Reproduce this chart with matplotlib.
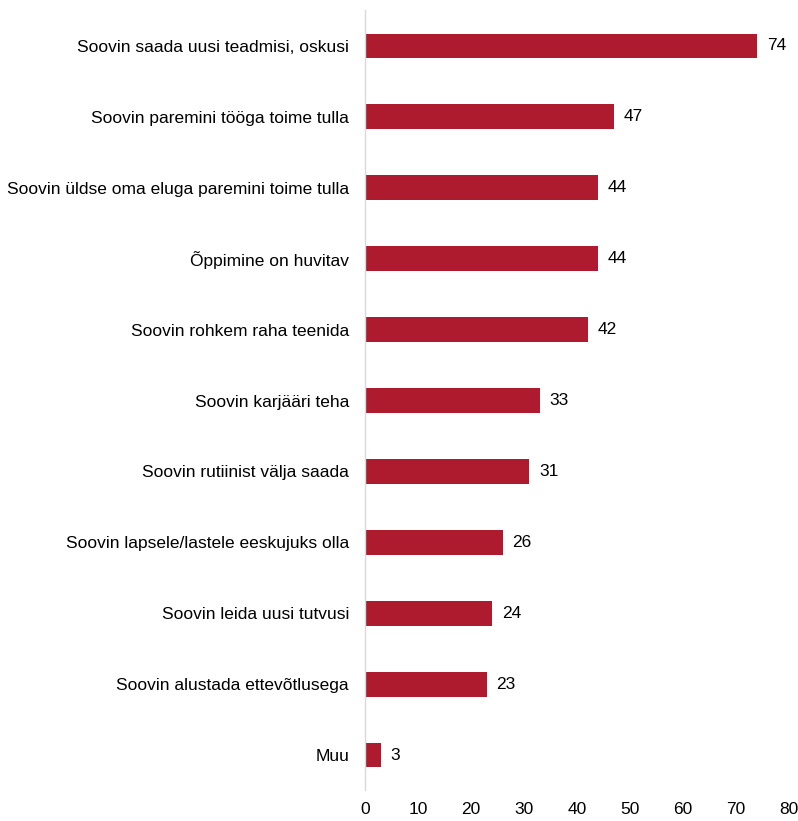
import matplotlib
matplotlib.use("Agg")
import matplotlib.pyplot as plt

categories = [
    "Soovin saada uusi teadmisi, oskusi",
    "Soovin paremini tööga toime tulla",
    "Soovin üldse oma eluga paremini toime tulla",
    "Õppimine on huvitav",
    "Soovin rohkem raha teenida",
    "Soovin karjääri teha",
    "Soovin rutiinist välja saada",
    "Soovin lapsele/lastele eeskujuks olla",
    "Soovin leida uusi tutvusi",
    "Soovin alustada ettevõtlusega",
    "Muu",
]
values = [74, 47, 44, 44, 42, 33, 31, 26, 24, 23, 3]
xticks = [0, 10, 20, 30, 40, 50, 60, 70, 80]

plt.rcParams['font.family'] = ['Liberation Sans', 'DejaVu Sans']

fig = plt.figure(figsize=(7.98, 8.21), dpi=100)
W, H = 798, 821
ax = fig.add_axes([365 / W, 30.5 / H, (789 - 365) / W, (810.5 - 30.5) / H])

FS = 12.5
n = len(categories)
ypos = list(range(n))
ax.barh(ypos, values, height=0.35, color="#AE1A2E")
ax.set_ylim(n - 0.5, -0.5)
ax.set_xlim(0, 80)
ax.set_yticks(ypos)
ax.set_yticklabels(categories, fontsize=FS, color="#000000")
ax.set_xticks(xticks)
ax.set_xticklabels([str(t) for t in xticks], fontsize=FS, color="#000000")
ax.tick_params(axis='both', length=0)
ax.tick_params(axis='y', pad=11.5)
ax.tick_params(axis='x', pad=8)
for s in ["top", "right", "bottom"]:
    ax.spines[s].set_visible(False)
ax.spines["left"].set_color("#D9D9D9")
ax.spines["left"].set_linewidth(1.0)

for y, v in zip(ypos, values):
    ax.annotate(str(v), xy=(v, y), xytext=(7, 0), textcoords="offset points",
                va="center", ha="left", fontsize=FS, color="#000000")

fig.savefig("out.png", dpi=100, facecolor="white")
